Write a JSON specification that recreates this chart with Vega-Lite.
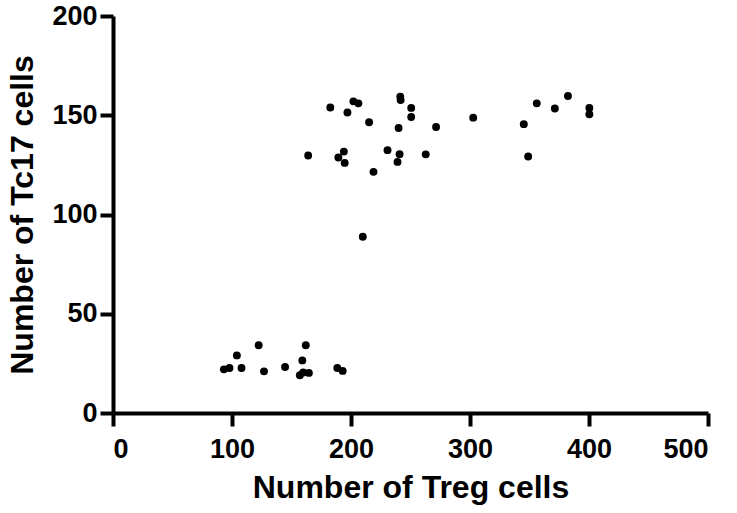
{
  "$schema": "https://vega.github.io/schema/vega-lite/v6.json",
  "width": 595,
  "height": 397,
  "autosize": {"type": "none"},
  "padding": {"left": 113, "top": 16, "right": 29, "bottom": 100},
  "background": "white",
  "config": {
    "view": {"stroke": null},
    "font": "Liberation Sans",
    "axis": {
      "grid": false,
      "domainColor": "black",
      "domainWidth": 4,
      "tickColor": "black",
      "tickWidth": 4,
      "tickSize": 13,
      "labelFont": "Liberation Sans",
      "labelFontWeight": "bold",
      "labelFontSize": 27,
      "labelColor": "black",
      "titleFont": "Liberation Sans",
      "titleFontWeight": "bold",
      "titleFontSize": 32,
      "titleColor": "black"
    }
  },
  "data": {
    "values": [
      {"treg": 182.6, "tc17": 153.9},
      {"treg": 202, "tc17": 157},
      {"treg": 206.2, "tc17": 156},
      {"treg": 197, "tc17": 151.4},
      {"treg": 215.2, "tc17": 146.5},
      {"treg": 241.4, "tc17": 159.4},
      {"treg": 241.7, "tc17": 157.7},
      {"treg": 250.6, "tc17": 153.7},
      {"treg": 250.6, "tc17": 149.1},
      {"treg": 240, "tc17": 143.6},
      {"treg": 271.5, "tc17": 144.1},
      {"treg": 164, "tc17": 129.7},
      {"treg": 194, "tc17": 131.7},
      {"treg": 189.4, "tc17": 128.7},
      {"treg": 194.7, "tc17": 126},
      {"treg": 218.9, "tc17": 121.5},
      {"treg": 230.7, "tc17": 132.4},
      {"treg": 240.8, "tc17": 130.4},
      {"treg": 239.1, "tc17": 126.5},
      {"treg": 262.8, "tc17": 130.3},
      {"treg": 209.9, "tc17": 88.8},
      {"treg": 302.7, "tc17": 148.8},
      {"treg": 345.2, "tc17": 145.5},
      {"treg": 348.9, "tc17": 129.2},
      {"treg": 356.1, "tc17": 156},
      {"treg": 371.3, "tc17": 153.4},
      {"treg": 382.3, "tc17": 159.7},
      {"treg": 400.3, "tc17": 153.7},
      {"treg": 400.3, "tc17": 150.5},
      {"treg": 93.2, "tc17": 22},
      {"treg": 97.9, "tc17": 22.7},
      {"treg": 104.1, "tc17": 29},
      {"treg": 108, "tc17": 22.7},
      {"treg": 122.4, "tc17": 34.1},
      {"treg": 126.9, "tc17": 21},
      {"treg": 144.6, "tc17": 23.2},
      {"treg": 159.1, "tc17": 26.5},
      {"treg": 162, "tc17": 34.1},
      {"treg": 157, "tc17": 19},
      {"treg": 159.8, "tc17": 20.4},
      {"treg": 164.6, "tc17": 20.2},
      {"treg": 188.5, "tc17": 22.7},
      {"treg": 193, "tc17": 21.2}
    ]
  },
  "mark": {"type": "point", "filled": true, "color": "black", "opacity": 1, "size": 62, "shape": "circle"},
  "encoding": {
    "x": {
      "field": "treg",
      "type": "quantitative",
      "title": "Number of Treg cells",
      "scale": {"domain": [0, 500], "nice": false, "zero": true},
      "axis": {"values": [0, 100, 200, 300, 400, 500], "labelPadding": 10, "titlePadding": 10}
    },
    "y": {
      "field": "tc17",
      "type": "quantitative",
      "title": "Number of Tc17 cells",
      "scale": {"domain": [0, 200], "nice": false},
      "axis": {"values": [0, 50, 100, 150, 200], "labelPadding": 3, "titlePadding": 12}
    }
  }
}
